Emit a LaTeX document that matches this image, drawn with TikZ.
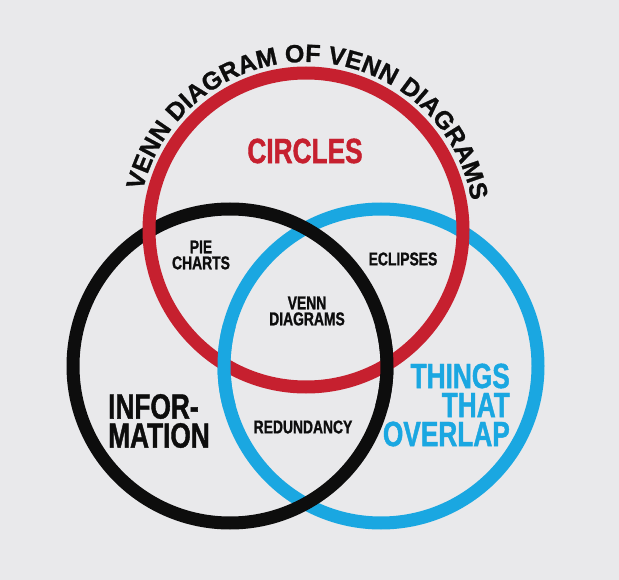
\documentclass[tikz,border=0pt]{standalone}
\usepackage{fontspec}
\setmainfont{Liberation Sans}
\newfontfamily\condfont{Liberation Sans}[FakeStretch=0.75,BoldFeatures={FakeBold=1.2}]
\newfontfamily\headfont{Liberation Sans}[BoldFeatures={FakeBold=1}]
\usetikzlibrary{calc,decorations.text}
\definecolor{vennPaper}{HTML}{E9E9EB}
\definecolor{vennRed}{HTML}{C6202F}
\definecolor{vennBlue}{HTML}{1AA7E1}
\definecolor{vennInk}{HTML}{0D0D0D}

\begin{document}
\begin{tikzpicture}[x=1pt,y=-1pt,line cap=butt]
\path[fill=vennPaper] (0,0) rectangle (619,580);
\tikzset{ring/.style={line width=13pt},smalltext/.style={font=\condfont\bfseries\fontsize{18.5}{16}\selectfont,text=vennInk,align=center,inner sep=0pt},bigtext/.style={font=\condfont\bfseries\fontsize{35}{29}\selectfont,inner sep=0pt}}
\coordinate (cred) at (306,230); \coordinate (cblack) at (230,366); \coordinate (cblue) at (381,366);
\draw[ring,draw=vennBlue] (cblue) circle (157);
\draw[ring,draw=vennInk] (cblack) circle (157);
\draw[ring,draw=vennRed] (cred) circle (157);
% lower crossings go back over the red ring
\draw[ring,draw=vennBlue] ($(cblue)+(165:157)$) arc[start angle=165,end angle=195,radius=157];
\draw[ring,draw=vennInk] ($(cblack)+(-15:157)$) arc[start angle=-15,end angle=15,radius=157];
\path[decorate,decoration={text along path,text align={fit to path},text color=vennInk,text={|\headfont\bfseries\fontsize{25}{25}\selectfont|VENN DIAGRAM OF VENN DIAGRAMS}}] ($(cred)+(193.5:168)$) arc[start angle=193.5,end angle=350,radius=168];
\node[bigtext,text=vennRed] (circles) at (305,151) {CIRCLES};
\node[smalltext] (pie) at (201,255) {PIE\\CHARTS};
\node[smalltext] (eclipses) at (403,259) {ECLIPSES};
\node[smalltext] (venn) at (307,311) {VENN\\DIAGRAMS};
\node[smalltext] (redundancy) at (303,427) {REDUNDANCY};
\node[bigtext,text=vennInk,anchor=west,align=left] (info) at (108,421) {INFOR-\\MATION};
\node[bigtext,text=vennBlue,anchor=east,align=right] (overlap) at (510,405) {THINGS\\THAT\\OVERLAP};
\end{tikzpicture}
\end{document}
